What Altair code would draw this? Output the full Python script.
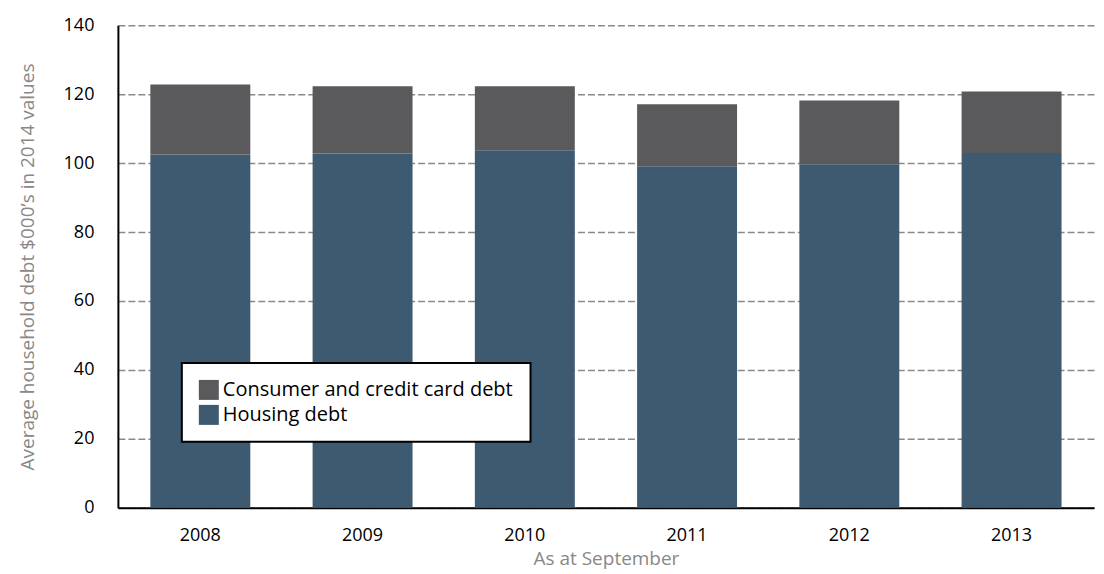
import altair as alt
import pandas as pd

years = ["2008", "2009", "2010", "2011", "2012", "2013"]
housing = [102.5, 102.8, 103.7, 99.1, 99.7, 102.9]
consumer = [20.3, 19.5, 18.6, 18.0, 18.5, 17.9]
series = ["Consumer and credit card debt", "Housing debt"]
colors = ["#5a5a5c", "#3e5a70"]

rows = []
for y, h, c in zip(years, housing, consumer):
    rows.append({"year": y, "series": series[1], "value": h, "ord": 0})
    rows.append({"year": y, "series": series[0], "value": c, "ord": 1})
df = pd.DataFrame(rows)

FONT = "Open Sans"

chart = alt.Chart(df).mark_bar().encode(
    x=alt.X("year:N", title="As at September",
            scale=alt.Scale(paddingInner=0.384, paddingOuter=0.2),
            axis=alt.Axis(labelAngle=0, ticks=False, grid=False, domainColor="black",
                          domainWidth=2, labelFontSize=18, labelColor="black",
                          labelPadding=19, titleFontSize=19, titleColor="#888888",
                          titleFontWeight="normal", titlePadding=5, labelFont=FONT, titleFont=FONT)),
    y=alt.Y("value:Q", stack="zero", title="Average household debt $000\u2019s in 2014 values",
            scale=alt.Scale(domain=[0, 140], nice=False),
            axis=alt.Axis(values=[0, 20, 40, 60, 80, 100, 120, 140], ticks=False,
                          domainColor="black", domainWidth=2, gridDash=[7, 3],
                          gridColor="#8a8a8a", gridWidth=1.5, labelFontSize=18,
                          labelColor="black", labelPadding=24, titleFontSize=19,
                          titleColor="#888888", titleFontWeight="normal", titlePadding=26,
                          labelFont=FONT, titleFont=FONT)),
    color=alt.Color("series:N", scale=alt.Scale(domain=series, range=colors),
                    legend=alt.Legend(title=None, orient="none", legendX=64, legendY=338,
                                      symbolType="square", symbolSize=400, symbolStrokeWidth=0,
                                      labelFontSize=20, labelFont=FONT, labelColor="black",
                                      labelOffset=4, rowPadding=5, padding=17,
                                      strokeColor="black", fillColor="white",
                                      labelLimit=400,
                                      labelExpr="datum.label + '\u00a0\u00a0'")),
    order=alt.Order("ord:Q", sort="ascending"),
).properties(
    width=977, height=483,
    padding={"left": 10, "top": 8, "right": 2, "bottom": 0},
).configure_view(stroke=None).configure_legend(strokeWidth=2)

chart.save("out.html", embed_options={"renderer": "svg", "actions": False})
